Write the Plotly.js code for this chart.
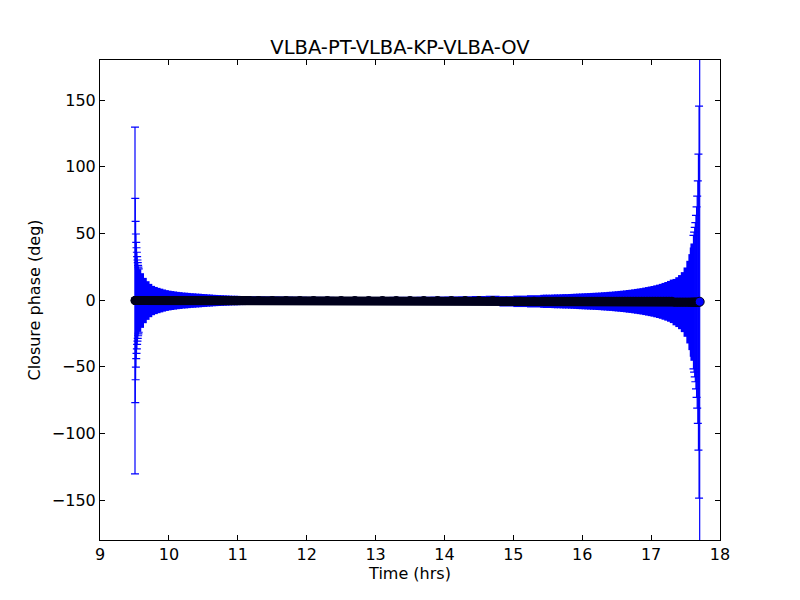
<!DOCTYPE html>
<html>
<head>
<meta charset="utf-8">
<script src="https://cdn.plot.ly/plotly-3.0.1.min.js"></script>
<style>html,body{margin:0;padding:0;background:#fff;}#chart{width:800px;height:600px;}</style>
</head>
<body>
<div id="chart"></div>
<script>
// ---- data ----
// start of the scan: points whose error-bar caps are visible
var leftCapTime  = [9.508, 9.512, 9.517, 9.521, 9.526, 9.530, 9.535, 9.539, 9.544, 9.548, 9.553, 9.557, 9.562];
var leftCapPhase = [-0.4, -0.4, -0.4, -0.4, -0.4, -0.4, -0.4, -0.4, -0.4, -0.4, -0.4, -0.4, -0.4];
var leftCapErr   = [130, 76.6, 59.4, 49.9, 43.6, 39.6, 36.2, 32.9, 30.4, 28.4, 26.4, 25.0, 23.8];

// start of the scan: dense error envelope
var leftTime  = [9.57, 9.61, 9.65, 9.69, 9.73, 9.77, 9.81, 9.85, 9.89, 9.93, 9.97, 10.01, 10.05, 10.09, 10.13, 10.17, 10.21, 10.25, 10.29, 10.33, 10.37, 10.41, 10.45, 10.49, 10.53, 10.57, 10.61, 10.65, 10.69, 10.73, 10.77, 10.81, 10.85, 10.89, 10.93, 10.97, 11.01, 11.05, 11.09, 11.13, 11.17];
var leftPhase = [-0.4, -0.4, -0.4, -0.4, -0.4, -0.4, -0.4, -0.4, -0.4, -0.4, -0.4, -0.4, -0.4, -0.4, -0.4, -0.4, -0.4, -0.4, -0.4, -0.4, -0.4, -0.4, -0.4, -0.4, -0.4, -0.4, -0.4, -0.4, -0.4, -0.4, -0.4, -0.4, -0.4, -0.4, -0.4, -0.4, -0.4, -0.4, -0.4, -0.4, -0.4];
var leftErr   = [23.5, 20.5, 17, 14.5, 12.5, 11, 10.2, 9.5, 8.9, 8.3, 7.8, 7.4, 7.1, 6.8, 6.5, 6.3, 6.0, 5.9, 5.7, 5.5, 5.4, 5.2, 5.1, 4.9, 4.8, 4.6, 4.5, 4.3, 4.2, 4.1, 4.0, 3.9, 3.8, 3.7, 3.6, 3.6, 3.5, 3.4, 3.4, 3.3, 3.3];

// middle of the scan
var midTime  = [11.3, 11.5, 11.7, 11.9, 12.1, 12.3, 12.5, 12.7, 12.9, 13.1, 13.3, 13.5, 13.7, 13.9, 14.1, 14.3, 14.5, 14.7, 14.9, 15.1, 15.3];
var midPhase = [-0.4, -0.4, -0.4, -0.4, -0.4, -0.4, -0.4, -0.4, -0.4, -0.4, -0.4, -0.4, -0.4, -0.4, -0.4, -0.4, -0.4, -0.4, -1.0, -1.0, -1.0];
var midErr   = [3.2, 3.1, 3.0, 2.9, 2.8, 2.8, 2.7, 2.7, 2.7, 2.7, 2.8, 2.8, 2.9, 3.0, 3.1, 3.2, 3.4, 3.6, 3.9, 4.3, 4.6];

// end of the scan: dense error envelope
var rightTime  = [15.42, 15.46, 15.50, 15.54, 15.58, 15.62, 15.66, 15.70, 15.74, 15.78, 15.82, 15.86, 15.90, 15.94, 15.98, 16.02, 16.06, 16.10, 16.14, 16.18, 16.22, 16.26, 16.30, 16.34, 16.38, 16.42, 16.46, 16.50, 16.54, 16.58, 16.62, 16.66, 16.70, 16.74, 16.78, 16.82, 16.86, 16.90, 16.94, 16.98, 17.02, 17.06, 17.10, 17.14, 17.18, 17.22, 17.26, 17.30, 17.34, 17.38, 17.42, 17.46, 17.50, 17.54, 17.57, 17.59, 17.60];
var rightPhase = [-1.0, -1.0, -1.0, -1.0, -1.0, -1.0, -1.0, -1.0, -1.0, -1.0, -1.0, -1.0, -1.0, -1.0, -1.0, -1.0, -1.0, -1.0, -1.0, -1.0, -1.0, -1.0, -1.0, -1.0, -1.0, -1.0, -1.0, -1.0, -1.0, -1.0, -1.0, -1.0, -1.0, -1.0, -1.0, -1.0, -1.0, -1.0, -1.0, -1.0, -1.0, -1.0, -1.0, -1.0, -1.0, -1.0, -1.0, -1.0, -1.6, -1.6, -1.6, -1.6, -1.6, -1.6, -1.6, -1.6, -1.6];
var rightErr   = [4.9, 5.0, 5.0, 5.0, 5.1, 5.2, 5.2, 5.3, 5.4, 5.4, 5.5, 5.6, 5.7, 5.8, 5.9, 6.0, 6.1, 6.2, 6.3, 6.4, 6.5, 6.6, 6.8, 6.9, 7.1, 7.2, 7.4, 7.6, 7.8, 8.0, 8.2, 8.5, 8.7, 9.0, 9.3, 9.6, 9.9, 10.3, 10.7, 11.1, 11.5, 12.0, 12.5, 13.1, 13.8, 14.5, 15.3, 16.3, 17.4, 18.7, 20.3, 22.5, 26.0, 31, 36, 41, 44];

// end of the scan: points whose error-bar caps are visible
var rightCapTime  = [17.615, 17.624, 17.633, 17.642, 17.651, 17.660, 17.669, 17.678, 17.687, 17.696, 17.705];
var rightCapPhase = [-1.6, -1.6, -1.6, -1.6, -1.6, -1.6, -1.6, -1.6, -1.6, -1.6, -1.3];
var rightCapErr   = [50, 52.5, 56, 59.7, 65, 71.5, 79.5, 91, 111, 147, 290];

var xTicks = [9, 10, 11, 12, 13, 14, 15, 16, 17, 18];
var yTicks = [-150, -100, -50, 0, 50, 100, 150];
var chartTitle = 'VLBA-PT-VLBA-KP-VLBA-OV';

// ---- traces ----
var BLUE = '#0000ff';
var DARK = '#00001c';

function errTrace(t, p, e, thick, capw) {
  return {
    x: t, y: p, type: 'scatter', mode: 'markers',
    marker: {size: 1, color: BLUE, opacity: 0},
    error_y: {type: 'data', array: e, visible: true, color: BLUE, thickness: thick, width: capw},
    hoverinfo: 'skip', showlegend: false
  };
}

var allTime = [].concat(leftCapTime, leftTime, midTime, rightTime, rightCapTime);
var allPhase = [].concat(leftCapPhase, leftPhase, midPhase, rightPhase, rightCapPhase);

var n = rightCapTime.length - 1;

var traces = [
  errTrace(leftCapTime, leftCapPhase, leftCapErr, 1.2, 4),
  errTrace(leftTime, leftPhase, leftErr, 4, 0),
  errTrace(midTime, midPhase, midErr, 14, 0),
  errTrace(rightTime, rightPhase, rightErr, 4, 0),
  errTrace(rightCapTime, rightCapPhase, rightCapErr, 1.2, 4),
  {
    x: allTime.slice(0, allTime.length - 1), y: allPhase.slice(0, allPhase.length - 1),
    type: 'scatter', mode: 'lines+markers',
    line: {color: DARK, width: 9},
    marker: {size: 9, color: DARK, line: {width: 0}},
    showlegend: false
  },
  {
    x: [rightCapTime[n]], y: [rightCapPhase[n]],
    type: 'scatter', mode: 'markers',
    marker: {size: 9, color: BLUE, line: {width: 1, color: DARK}},
    showlegend: false
  }
];

var FONT = 'DejaVu Sans, sans-serif';
var layout = {
  width: 800, height: 600,
  margin: {l: 100, r: 80, t: 60, b: 60},
  paper_bgcolor: '#ffffff', plot_bgcolor: '#ffffff',
  font: {family: FONT, size: 16, color: '#000000'},
  title: {text: chartTitle, font: {family: FONT, size: 19.5, color: '#000'}, x: 0.5, xanchor: 'center', yref: 'container', y: 0.91, yanchor: 'bottom'},
  showlegend: false,
  xaxis: {
    range: [9, 18], tickvals: xTicks, ticktext: xTicks.map(String),
    showgrid: false, zeroline: false,
    showline: true, linecolor: '#000', linewidth: 1, mirror: 'ticks',
    ticks: 'inside', ticklen: 5, tickcolor: '#000', tickwidth: 1,
    tickfont: {family: FONT, size: 16, color: '#000'},
    title: {text: 'Time (hrs)', font: {family: FONT, size: 16, color: '#000'}, standoff: 3}
  },
  yaxis: {
    range: [-180, 180], tickvals: yTicks,
    showgrid: false, zeroline: false,
    showline: true, linecolor: '#000', linewidth: 1, mirror: 'ticks',
    ticks: 'inside', ticklen: 5, tickcolor: '#000', tickwidth: 1,
    tickfont: {family: FONT, size: 16, color: '#000'},
    title: {text: 'Closure phase (deg)', font: {family: FONT, size: 16, color: '#000'}, standoff: 7}
  }
};

Plotly.newPlot('chart', traces, layout, {displayModeBar: false, staticPlot: true});
</script>
</body>
</html>
